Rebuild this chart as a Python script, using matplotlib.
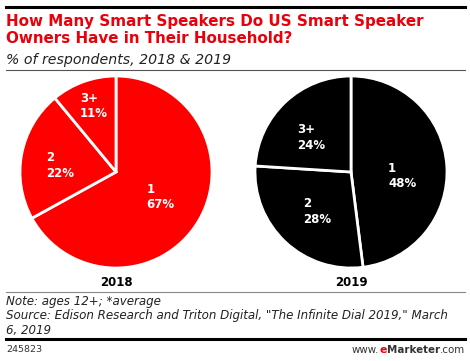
import matplotlib
matplotlib.use("Agg")
import matplotlib.pyplot as plt
from matplotlib.lines import Line2D

# data
years = ["2018", "2019"]
categories = ["1", "2", "3+"]
shares_2018 = [67, 22, 11]
shares_2019 = [48, 28, 24]
pie_colors = ["#ff0000", "#000000"]

W, H = 470, 361
fig = plt.figure(figsize=(W / 100, H / 100), dpi=100)
fig.patch.set_facecolor("white")

def fx(x):
    return x / W

def fy(y):
    return 1 - y / H

def hline(y, x0, x1, lw, color):
    fig.add_artist(Line2D([fx(x0), fx(x1)], [fy(y), fy(y)], lw=lw, color=color,
                          transform=fig.transFigure))

# header
hline(7, 6, 465, 2.2, "#000000")
fig.text(fx(6), fy(14), "How Many Smart Speakers Do US Smart Speaker\nOwners Have in Their Household?",
         color="#e8000b", fontsize=10.9, fontweight="bold", ha="left", va="top", linespacing=1.15)
fig.text(fx(6), fy(60), "% of respondents, 2018 & 2019", fontsize=10.2, style="italic",
         ha="left", va="center", color="#222222")
hline(70, 6, 465, 0.8, "#555555")

# pies: center (px), radius (px)
centers = [(116, 172), (351, 172)]
radius = 96
label_pos = [
    [(0.32, -0.26), (-0.73, 0.07), (-0.375, 0.69)],
    [(0.385, -0.04), (-0.50, -0.41), (-0.56, 0.36)],
]
all_shares = [shares_2018, shares_2019]

for i, (cx, cy) in enumerate(centers):
    ax = fig.add_axes([fx(cx - radius), fy(cy + radius), 2 * radius / W, 2 * radius / H])
    ax.pie(all_shares[i], colors=[pie_colors[i]] * 3, startangle=90, counterclock=False,
           radius=1, wedgeprops=dict(edgecolor="white", linewidth=2))
    ax.set_xlim(-1, 1)
    ax.set_ylim(-1, 1)
    ax.set_aspect("equal")
    ax.axis("off")
    for cat, val, (lx, ly) in zip(categories, all_shares[i], label_pos[i]):
        ax.text(lx, ly, f"{cat}\n{val}%", color="white", fontsize=8.5, fontweight="bold",
                ha="left", va="center", linespacing=1.25)
    fig.text(fx(cx), fy(283), years[i], fontsize=8.5, fontweight="bold", ha="center", va="center")

# footer
hline(292, 6, 465, 0.8, "#888888")
fig.text(fx(6), fy(295), "Note: ages 12+; *average\n"
         "Source: Edison Research and Triton Digital, \"The Infinite Dial 2019,\" March\n6, 2019",
         fontsize=8.6, style="italic", ha="left", va="top", linespacing=1.15, color="#222222")
hline(339, 6, 465, 2.2, "#000000")
fig.text(fx(6), fy(350), "245823", fontsize=6.8, ha="left", va="center", color="#333333")

over = fig.add_axes([0, 0, 1, 1])
over.axis("off")
t4 = over.text(fx(465), fy(350), ".com", fontsize=7.4, ha="right", va="center", color="#333333",
               transform=fig.transFigure)
t3 = over.annotate("Marketer", xy=(0, 0.5), xycoords=t4, fontsize=7.4, fontweight="bold",
                   ha="right", va="center", color="#333333")
t2 = over.annotate("e", xy=(0, 0.5), xycoords=t3, fontsize=7.9, fontweight="bold",
                   ha="right", va="center", color="#e8000b")
over.annotate("www.", xy=(0, 0.5), xycoords=t2, fontsize=7.4, ha="right", va="center", color="#333333")

fig.savefig("out.png", dpi=100)
